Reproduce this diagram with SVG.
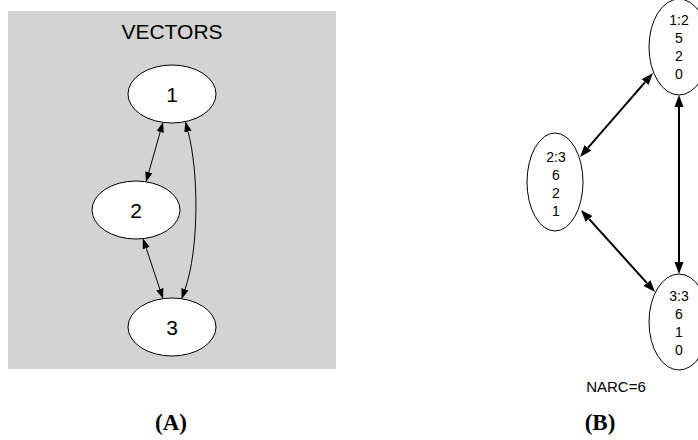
<svg xmlns="http://www.w3.org/2000/svg" width="698" height="440" viewBox="0 0 698 440">
<style>
.n{fill:#fff;stroke:#000;stroke-width:1}
.ta{font-family:"Liberation Sans",Arial,sans-serif;font-size:21px;text-anchor:middle;fill:#000}
.tb{font-family:"Liberation Sans",Arial,sans-serif;font-size:14px;text-anchor:middle;fill:#000}
.ea{fill:none;stroke:#000;stroke-width:1}
.eb{fill:none;stroke:#000;stroke-width:2}
.cap{font-family:"Liberation Serif","Times New Roman",serif;font-size:23px;font-weight:bold;text-anchor:middle;fill:#000}
</style>
<defs>
<marker id="ha" markerUnits="userSpaceOnUse" markerWidth="12" markerHeight="10" viewBox="0 0 12 10" refX="0" refY="5" orient="auto-start-reverse">
<path d="M0,1.3 L10.5,5 L0,8.7 Z" fill="#000"/>
</marker>
<marker id="hb" markerUnits="userSpaceOnUse" markerWidth="14" markerHeight="12" viewBox="0 0 14 12" refX="0" refY="6" orient="auto-start-reverse">
<path d="M0,1.5 L12,6 L0,10.5 Z" fill="#000"/>
</marker>
</defs>
<rect id="cluster-vectors" x="8" y="11" width="328" height="358" fill="#d3d3d3"/>
<text class="ta" x="172" y="39">VECTORS</text>
<g id="edges">
<path class="ea" d="M160.2,132 L148.8,172.2" marker-start="url(#ha)" marker-end="url(#ha)"/>
<path class="ea" d="M188,131.5 C199,172 199,250 185,289.3" marker-start="url(#ha)" marker-end="url(#ha)"/>
<path class="ea" d="M146.2,248.1 L159.8,289.1" marker-start="url(#ha)" marker-end="url(#ha)"/>
<path class="eb" d="M587.9,147.9 L645.1,82.1" marker-start="url(#hb)" marker-end="url(#hb)"/>
<path class="eb" d="M679,107 L679,262" marker-start="url(#hb)" marker-end="url(#hb)"/>
<path class="eb" d="M589,218.9 L647,283.1" marker-start="url(#hb)" marker-end="url(#hb)"/>
</g>
<g id="a1"><ellipse class="n" cx="172" cy="94" rx="44" ry="29"/><text class="ta" x="172" y="101.5">1</text></g>
<g id="a2"><ellipse class="n" cx="136" cy="210" rx="44" ry="29"/><text class="ta" x="136" y="217.5">2</text></g>
<g id="a3"><ellipse class="n" cx="172" cy="327" rx="44" ry="29"/><text class="ta" x="172" y="334.5">3</text></g>
<g id="b1"><ellipse class="n" cx="679" cy="47" rx="30" ry="48"/>
<text class="tb" x="679" y="25">1:2</text><text class="tb" x="679" y="43">5</text><text class="tb" x="679" y="61">2</text><text class="tb" x="679" y="79">0</text></g>
<g id="b2"><ellipse class="n" cx="555" cy="182" rx="28" ry="49"/>
<text class="tb" x="556" y="162">2:3</text><text class="tb" x="556" y="180">6</text><text class="tb" x="556" y="198">2</text><text class="tb" x="556" y="216">1</text></g>
<g id="b3"><ellipse class="n" cx="679" cy="322" rx="30" ry="48"/>
<text class="tb" x="679" y="301">3:3</text><text class="tb" x="679" y="319">6</text><text class="tb" x="679" y="337">1</text><text class="tb" x="679" y="355">0</text></g>
<text class="tb" x="616" y="392" style="font-size:15px">NARC=6</text>
<text class="cap" x="171" y="430">(A)</text>
<text class="cap" x="600" y="430">(B)</text>
</svg>
